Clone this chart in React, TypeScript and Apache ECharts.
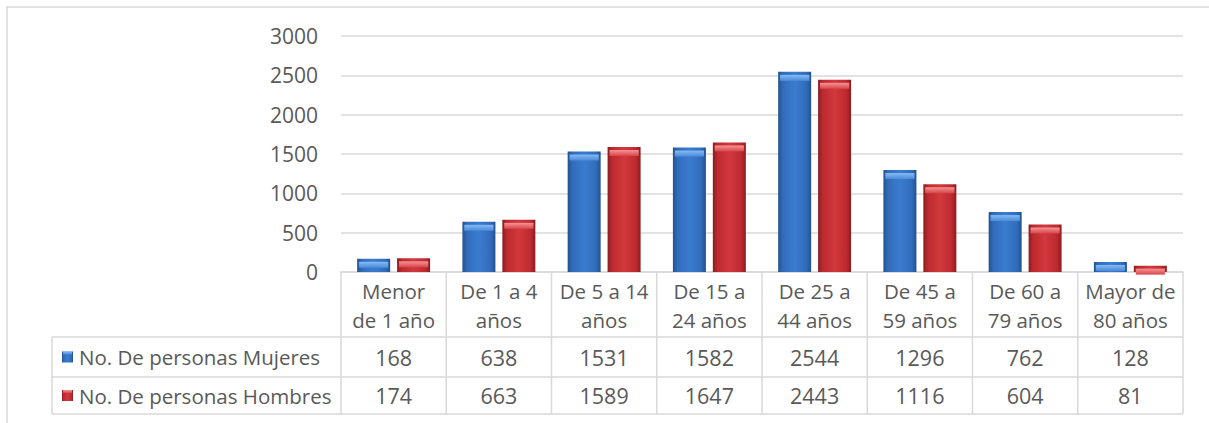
import React, { useEffect, useRef } from "react";
import * as echarts from "echarts";

const categories = [
  "Menor\nde 1 año",
  "De 1 a 4\naños",
  "De 5 a 14\naños",
  "De 15 a\n24 años",
  "De 25 a\n44 años",
  "De 45 a\n59 años",
  "De 60 a\n79 años",
  "Mayor de\n80 años",
];
const mujeres = [168, 638, 1531, 1582, 2544, 1296, 762, 128];
const hombres = [174, 663, 1589, 1647, 2443, 1116, 604, 81];
const seriesNames = ["No. De personas Mujeres", "No. De personas Hombres"];
const yMin = 0;
const yMax = 3000;
const yInterval = 500;

const FONT = "'Open Sans', Lato, sans-serif";
const TXT = "#595959";
const LINE = "#D9D9D9";

const hGrad = (edge: string, mid: string, center: string) =>
  new echarts.graphic.LinearGradient(0, 0, 1, 0, [
    { offset: 0, color: edge },
    { offset: 0.14, color: mid },
    { offset: 0.5, color: center },
    { offset: 0.86, color: mid },
    { offset: 1, color: edge },
  ]);
const vGrad = (top: string, bottom: string) =>
  new echarts.graphic.LinearGradient(0, 0, 0, 1, [
    { offset: 0, color: top },
    { offset: 1, color: bottom },
  ]);

const blueBody = () => hGrad("#22518F", "#316CBA", "#3B7CCF");
const redBody = () => hGrad("#8A1C20", "#BD2A2F", "#D2383C");
const blueCap = () => vGrad("#86BBF4", "#4A8ADA");
const redCap = () => vGrad("#F49494", "#D84549");

export default function App() {
  const ref = useRef<HTMLDivElement>(null);
  useEffect(() => {
    if (!ref.current) return;
    const chart = echarts.init(ref.current, null, { renderer: "svg" });
    const barW = 33;
    const gap = "21%";
    const fsText = 20.5;
    const fsNum = 21.5;
    chart.setOption({
      animation: false,
      backgroundColor: "#ffffff",
      textStyle: { fontFamily: FONT },
      grid: { left: 341, right: 26, top: 36, bottom: 151 },
      xAxis: {
        type: "category",
        data: categories,
        axisTick: { show: false },
        axisLine: { show: true, lineStyle: { color: LINE, width: 1.5 } },
        axisLabel: {
          interval: 0,
          color: TXT,
          fontSize: fsText,
          fontFamily: FONT,
          lineHeight: 29,
          margin: 4,
        },
      },
      yAxis: {
        type: "value",
        min: yMin,
        max: yMax,
        interval: yInterval,
        axisLine: { show: false },
        axisTick: { show: false },
        axisLabel: {
          color: TXT,
          fontSize: 21,
          fontFamily: FONT,
          margin: 23,
          formatter: (v: number) => String(v),
        },
        splitLine: { lineStyle: { color: LINE, width: 1.5 } },
      },
      series: [
        {
          name: seriesNames[0],
          type: "bar",
          data: mujeres,
          barWidth: barW,
          barGap: gap,
          itemStyle: { color: blueBody() },
        },
        {
          name: seriesNames[1],
          type: "bar",
          data: hombres,
          barWidth: barW,
          barGap: gap,
          itemStyle: { color: redBody() },
        },
        {
          type: "pictorialBar",
          data: mujeres,
          barWidth: barW,
          barGap: gap,
          symbol: "rect",
          symbolSize: [barW - 4, 6],
          symbolPosition: "end",
          symbolOffset: [0, 3],
          itemStyle: { color: blueCap() },
          z: 3,
        },
        {
          type: "pictorialBar",
          data: hombres,
          barWidth: barW,
          barGap: gap,
          symbol: "rect",
          symbolSize: [barW - 4, 6],
          symbolPosition: "end",
          symbolOffset: [0, 3],
          itemStyle: { color: redCap() },
          z: 3,
        },
      ],
    });

    const xs = categories.map((_, i) => chart.convertToPixel({ xAxisIndex: 0 }, i) as number);
    const band = xs[1] - xs[0];
    const y0 = chart.convertToPixel({ yAxisIndex: 0 }, 0) as number;
    const left = xs[0] - band / 2;
    const right = xs[xs.length - 1] + band / 2;
    const tableLeft = 52;
    const r1 = y0 + 65;
    const r2 = r1 + 40;
    const r3 = r2 + 37;
    const ls = { stroke: LINE, lineWidth: 1.5 };
    const g: any[] = [];
    g.push({
      type: "rect",
      shape: { x: 7, y: 7, width: 1220, height: 440 },
      style: { fill: "none", stroke: LINE, lineWidth: 1.5 },
      silent: true,
    });
    [r1, r2, r3].forEach((y) =>
      g.push({ type: "line", shape: { x1: tableLeft, y1: y, x2: right, y2: y }, style: ls })
    );
    g.push({ type: "line", shape: { x1: tableLeft, y1: r1, x2: tableLeft, y2: r3 }, style: ls });
    for (let i = 0; i <= categories.length; i++) {
      const x = left + i * band;
      g.push({ type: "line", shape: { x1: x, y1: y0, x2: x, y2: r3 }, style: ls });
    }
    const rows = [
      { vals: mujeres, name: seriesNames[0], yc: (r1 + r2) / 2, key: blueBody(), cap: blueCap() },
      { vals: hombres, name: seriesNames[1], yc: (r2 + r3) / 2, key: redBody(), cap: redCap() },
    ];
    rows.forEach((row) => {
      g.push({
        type: "rect",
        shape: { x: 62, y: row.yc - 5.5, width: 11, height: 11 },
        style: { fill: row.key },
      });
      g.push({
        type: "rect",
        shape: { x: 63, y: row.yc - 5.5, width: 9, height: 3 },
        style: { fill: row.cap },
      });
      g.push({
        type: "text",
        x: 79,
        y: row.yc,
        style: {
          text: row.name,
          fill: TXT,
          font: `${fsText}px ${FONT}`,
          verticalAlign: "middle",
        },
      });
      row.vals.forEach((v, i) => {
        g.push({
          type: "text",
          x: xs[i],
          y: row.yc,
          style: {
            text: String(v),
            fill: TXT,
            font: `${fsNum}px ${FONT}`,
            align: "center",
            verticalAlign: "middle",
          },
        });
      });
    });
    chart.setOption({ graphic: g });
    return () => chart.dispose();
  }, []);
  return (
    <div
      ref={ref}
      style={{ position: "fixed", left: 0, top: 0, width: 1209, height: 423 }}
    />
  );
}
